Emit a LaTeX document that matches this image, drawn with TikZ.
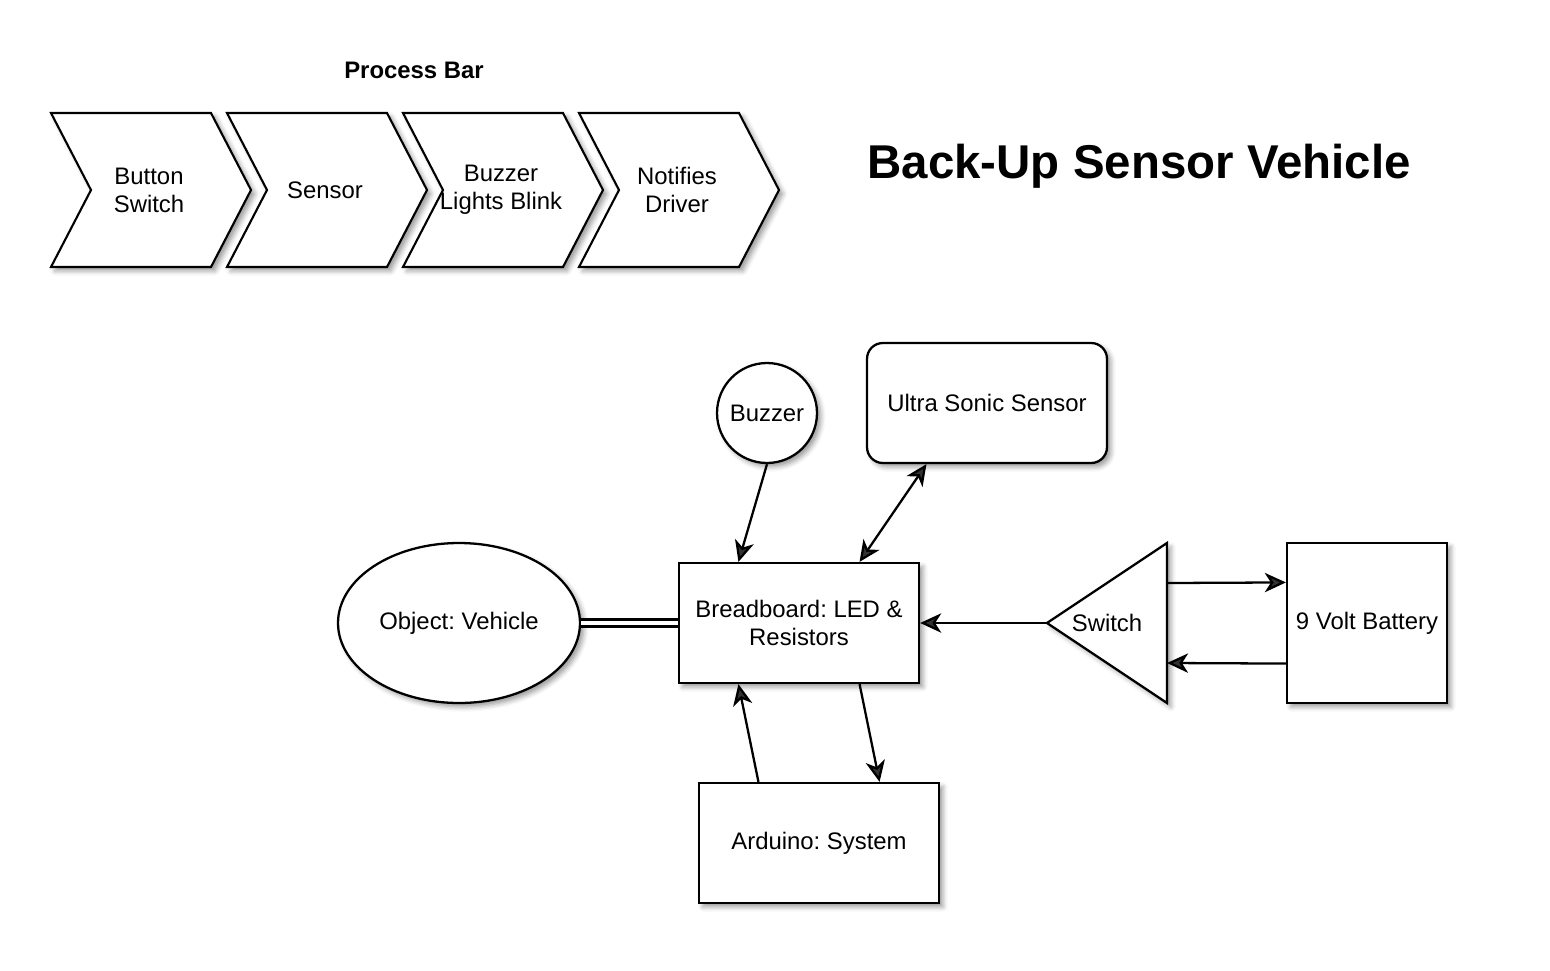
\documentclass[tikz,border=0pt]{standalone}
\usepackage{fontspec}
\setmainfont{Liberation Sans}
\frenchspacing
\usetikzlibrary{arrows.meta,shapes.geometric,calc,shadows.blur}

\tikzset{
    softshadow/.style={blur shadow={shadow xshift=2.2pt, shadow yshift=-2.2pt, shadow blur radius=2.8pt, shadow opacity=40}},
    box/.style={draw=black, line width=1.3pt, fill=white, minimum width=4.8cm, minimum height=2.4cm, align=center, softshadow},
    chev/.style={draw=black, line width=1.2pt, fill=white, softshadow},
    head/.tip={Stealth[length=12pt, width=11pt, inset=3.5pt]},
    wire/.style={line width=1.3pt, -{head}},
    twowire/.style={line width=1.3pt, {head}-{head}},
}

\begin{document}
\begin{tikzpicture}[x=0.02cm, y=-0.02cm, font=\fontsize{13.6}{16}\selectfont]
    \useasboundingbox (0,0) rectangle (1550,970);

    % process bar
    \node (bartitle) at (414,70) {\bfseries Process Bar};
    \foreach \x/\t [count=\i] in {51/{Button\\Switch}, 227/Sensor, 403/{Buzzer\\Lights Blink}, 579/{Notifies\\Driver}}{
        \draw [chev] (\x,113) -- (\x+160,113) -- (\x+200,190) -- (\x+160,267) -- (\x,267) -- (\x+40,190) -- cycle;
        \node (bar\i) [align=center] at (\x+98,190) {\t};
    }

    \node (title) at (1139,166) {\fontsize{27}{32}\selectfont\bfseries Back-Up Sensor Vehicle};

    % parts
    \node (buzzer) [draw=black, line width=1.3pt, fill=white, circle, minimum size=2cm, softshadow] at (767,413) {Buzzer};
    \node (sonic) [box, rounded corners=9pt] at (987,403) {Ultra Sonic Sensor};
    \node (vehicle) [draw=black, line width=1.3pt, fill=white, ellipse, minimum width=4.8cm, minimum height=3.2cm, softshadow] at (459,623) {Object: Vehicle};
    \node (bread) [box] at (799,623) {Breadboard: LED \&\\Resistors};
    \node (arduino) [box] at (819,843) {Arduino: System};
    \node (battery) [box, minimum width=3.2cm, minimum height=3.2cm] at (1367,623) {9 Volt Battery};

    \node (switch) [minimum width=2.4cm, minimum height=3.2cm, inner sep=0pt, outer sep=0pt] at (1107,623) {};
    \draw [chev, line width=1.3pt] (switch.west) -- (switch.north east) -- (switch.south east) -- cycle;
    \node (switchtext) at (switch.center) {Switch};

    % connections
    \draw [wire] (buzzer.south) -- ($(bread.north west)!0.25!(bread.north east)$);
    \draw [twowire] ($(sonic.south west)!0.25!(sonic.south east)$) -- ($(bread.north west)!0.75!(bread.north east)$);
    \draw [line width=1.3pt, double=white, double distance=2.6pt] (vehicle.east) -- (bread.west);
    \draw [wire] (switch.west) -- (bread.east);
    \draw [wire] ($(switch.north east)!0.25!(switch.south east)$) -- ($(battery.north west)!0.25!(battery.south west)$);
    \draw [wire] ($(battery.north west)!0.75!(battery.south west)$) -- ($(switch.north east)!0.75!(switch.south east)$);
    \draw [wire] ($(arduino.north west)!0.25!(arduino.north east)$) -- ($(bread.south west)!0.25!(bread.south east)$);
    \draw [wire] ($(bread.south west)!0.75!(bread.south east)$) -- ($(arduino.north west)!0.75!(arduino.north east)$);
\end{tikzpicture}
\end{document}
